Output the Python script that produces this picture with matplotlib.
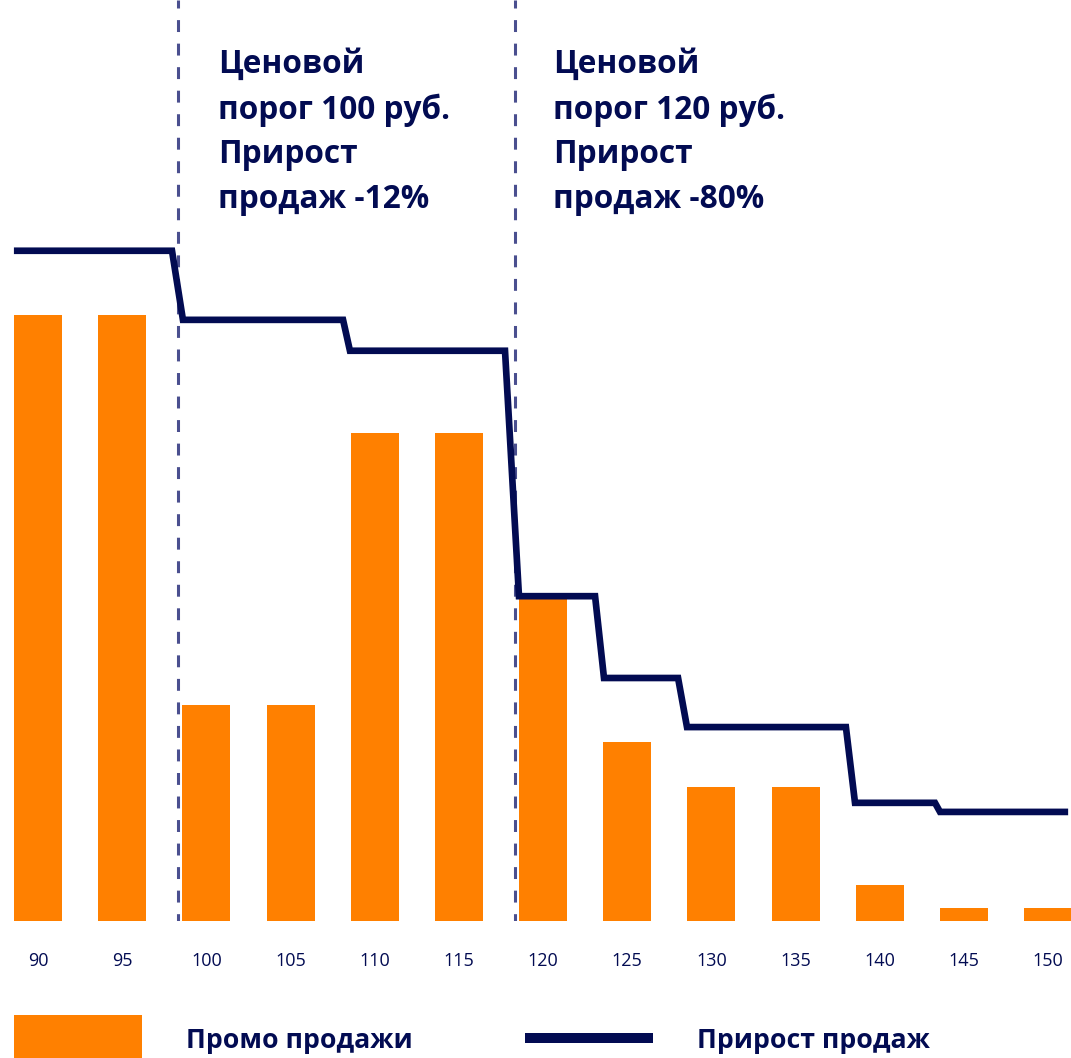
import matplotlib
matplotlib.use("Agg")
import matplotlib.pyplot as plt
from matplotlib.patches import Patch, Rectangle
from matplotlib.lines import Line2D
from matplotlib.legend_handler import HandlerPatch

plt.rcParams['font.family'] = ['Open Sans', 'DejaVu Sans']

# ---- data ----
prices = [90, 95, 100, 105, 110, 115, 120, 125, 130, 135, 140, 145, 150]
promo_sales = [100, 100, 35.6, 35.6, 80.5, 80.5, 53.5, 29.5, 22.1, 22.1, 5.9, 2.1, 2.1]
growth_x = [88.57, 97.96, 98.61, 108.12, 108.53, 117.74, 118.57, 123.09, 123.62,
            128.02, 128.55, 137.99, 138.53, 143.28, 143.58, 151.19]
growth_y = [110.6, 110.6, 99.2, 99.2, 94.1, 94.1, 53.6, 53.6, 40.1,
            40.1, 32.0, 32.0, 19.5, 19.5, 18.0, 18.0]
thresholds = [98.32, 118.33]
notes = ["Ценовой\nпорог 100 руб.\nПрирост\nпродаж -12%",
         "Ценовой\nпорог 120 руб.\nПрирост\nпродаж -80%"]
note_x = [100.69, 120.59]
legend_labels = ["Промо продажи", "Прирост продаж"]

ORANGE = "#FF8000"
NAVY = "#020B52"
DASH = "#4A4F8F"

W, H = 1071, 1058
fig = plt.figure(figsize=(W / 100, H / 100), dpi=100)
ax = fig.add_axes([0, 137 / H, 1, 921 / H])

ax.bar(prices, promo_sales, width=2.85, color=ORANGE, zorder=2)
ax.plot(growth_x, growth_y, color=NAVY, lw=4.8, solid_joinstyle='miter',
        solid_capstyle='butt', zorder=3)
for t in thresholds:
    ax.axvline(t, color=DASH, lw=2.2, ls=(1.5, (3.9, 3.8)), zorder=1)

for x, s in zip(note_x, notes):
    ax.text(x, 144.0, s, ha='left', va='top', fontsize=22.8, fontweight='bold',
            color=NAVY, linespacing=1.47)

ax.set_xlim(87.743, 151.36)
ax.set_ylim(0, 151.98)
ax.set_xticks(prices)
ax.set_xticklabels([str(p) for p in prices], fontsize=13, color=NAVY)
ax.tick_params(axis='x', length=0, pad=22)
ax.set_yticks([])
for s in ax.spines.values():
    s.set_visible(False)


def tall_patch(legend, orig_handle, xdescent, ydescent, width, height, fontsize):
    return Rectangle((-xdescent, -ydescent - 9.7), width, height + 19.1)


handles = [Patch(facecolor=ORANGE, edgecolor='none'),
           Line2D([0], [0], color=NAVY, lw=7.2, solid_capstyle='butt')]
fig.legend(handles, legend_labels, loc='lower left', bbox_to_anchor=(14 / W, 0.0034),
           ncol=2, frameon=False, borderpad=0, borderaxespad=0,
           prop={'size': 19.2, 'weight': 'bold'}, labelcolor=NAVY,
           handler_map={Patch: HandlerPatch(patch_func=tall_patch)},
           handlelength=4.8, handleheight=0.864, handletextpad=1.65, columnspacing=4.2)

fig.savefig("out.png", dpi=100)
